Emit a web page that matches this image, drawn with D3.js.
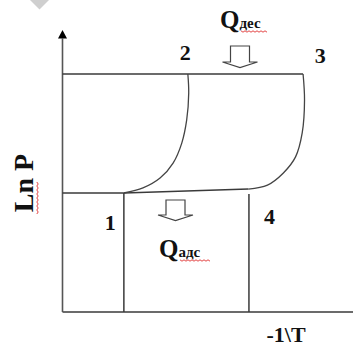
<!DOCTYPE html>
<html>
<head>
<meta charset="utf-8">
<script src="https://cdn.jsdelivr.net/npm/d3@7/dist/d3.min.js"></script>
<style>
  html, body { margin: 0; padding: 0; background: #fff; }
  svg { display: block; }
</style>
</head>
<body>
<svg id="chart" width="353" height="348"></svg>
<script>
// ---- data (schematic units: x = -1/T, y = Ln P) ----
const pLow = 4.22;          // adsorption pressure level (point 1)
const pHigh = 8.44;         // desorption pressure level (points 2,3)
const xPoint1 = 2.12;
const xPoint4 = 6.44;
const isostere12X = [2.12, 2.78, 3.37, 3.82, 4.12, 4.29, 4.36, 4.33];
const isostere12Y = [4.22, 4.40, 4.75, 5.28, 5.99, 6.81, 7.77, 8.44];
const isostere43X = [6.42, 7.08, 7.63, 8.05, 8.28, 8.36, 8.31];
const isostere43Y = [4.36, 4.50, 4.93, 5.50, 6.35, 7.52, 8.44];
const pointLabels = ["1", "2", "3", "4"];
const pointLabelX = [1.65, 4.24, 8.9, 7.15];
const pointLabelY = [2.91, 8.94, 8.82, 3.12];
const heatLabels = ["Q", "Q"];
const heatSubs = ["дес", "адс"];
const axisLabels = ["Ln P", "-1\\T"];

const FONT = "'Liberation Serif', 'DejaVu Serif', 'Times New Roman', serif";
const svg = d3.select("#chart");
const x = d3.scaleLinear().domain([0, 10]).range([62.5, 352]);
const y = d3.scaleLinear().domain([0, 10]).range([312, 30]);

// watermark fragment
svg.append("polygon").attr("points", "30,0 49,0 39.5,9.5").attr("fill", "#cfcfcf");

const stroke = "#3a3a3a";

// axes
svg.append("line").attr("x1", x(0)).attr("x2", 353).attr("y1", y(0)).attr("y2", y(0))
  .attr("stroke", stroke).attr("stroke-width", 1.6);
svg.append("line").attr("x1", x(0)).attr("x2", x(0)).attr("y1", y(0)).attr("y2", y(9.7))
  .attr("stroke", "#555").attr("stroke-width", 1.6);
svg.append("path")
  .attr("d", `M${x(0)},${y(10)} L${x(0) - 4.5},${y(9.7)} L${x(0) + 4.5},${y(9.7)} Z`)
  .attr("fill", "#000");

// isobars
svg.append("line").attr("x1", x(0)).attr("x2", x(isostere43X[isostere43X.length - 1]))
  .attr("y1", y(pHigh)).attr("y2", y(pHigh)).attr("stroke", stroke).attr("stroke-width", 1.5);
svg.append("line").attr("x1", x(0)).attr("x2", x(xPoint1))
  .attr("y1", y(pLow)).attr("y2", y(pLow)).attr("stroke", stroke).attr("stroke-width", 1.5);
// 1 -> 4 line
svg.append("line").attr("x1", x(isostere12X[0])).attr("y1", y(isostere12Y[0]))
  .attr("x2", x(isostere43X[0])).attr("y2", y(isostere43Y[0]))
  .attr("stroke", stroke).attr("stroke-width", 1.4);
// verticals
svg.append("line").attr("x1", x(xPoint1)).attr("x2", x(xPoint1))
  .attr("y1", y(pLow)).attr("y2", y(0)).attr("stroke", stroke).attr("stroke-width", 1.5);
svg.append("line").attr("x1", x(xPoint4)).attr("x2", x(xPoint4))
  .attr("y1", y(4.18)).attr("y2", y(0)).attr("stroke", stroke).attr("stroke-width", 1.5);

// isosteres (curves)
const line = d3.line().x(d => x(d[0])).y(d => y(d[1])).curve(d3.curveCatmullRom.alpha(0.5));
svg.append("path").attr("d", line(isostere12X.map((v, i) => [v, isostere12Y[i]])))
  .attr("fill", "none").attr("stroke", "#444").attr("stroke-width", 1.3);
svg.append("path").attr("d", line(isostere43X.map((v, i) => [v, isostere43Y[i]])))
  .attr("fill", "none").attr("stroke", "#444").attr("stroke-width", 1.3);

function txt(sel) {
  return sel.attr("font-family", FONT).attr("font-weight", "bold").attr("fill", "#111");
}

// point labels
pointLabels.forEach((t, i) => {
  txt(svg.append("text")).attr("x", x(pointLabelX[i])).attr("y", y(pointLabelY[i]))
    .attr("text-anchor", "middle").attr("font-size", 22).text(t);
});

// hollow block arrows
function blockArrow(cx, top, headY, tipY, halfBody, halfHead) {
  const p = [[cx - halfBody, top], [cx + halfBody, top], [cx + halfBody, headY], [cx + halfHead, headY],
             [cx, tipY], [cx - halfHead, headY], [cx - halfBody, headY]];
  svg.append("polygon").attr("points", p.map(d => d.join(",")).join(" "))
    .attr("fill", "#fff").attr("stroke", "#444").attr("stroke-width", 1.2);
}
blockArrow(240, 46, 62, 67.5, 9.5, 17.5);
blockArrow(175.5, 200, 215, 220.5, 9.5, 17.5);

// heat labels
function heatLabel(xq, yb, i) {
  const t = txt(svg.append("text")).attr("x", xq).attr("y", yb).attr("font-size", 25);
  t.append("tspan").text(heatLabels[i]);
  t.append("tspan").attr("font-size", 15).text(heatSubs[i]);
}
heatLabel(220, 28, 0);
heatLabel(159, 257, 1);

// spell-check squiggles
function squiggle(x0, x1, yy, vertical) {
  let d = "";
  const n = Math.round((x1 - x0) / 2);
  for (let k = 0; k <= n; k++) {
    const a = x0 + k * 2, b = yy + (k % 2 ? 1.2 : -0.2);
    d += (k ? "L" : "M") + (vertical ? `${b},${a}` : `${a},${b}`);
  }
  svg.append("path").attr("d", d).attr("fill", "none").attr("stroke", "#e03030").attr("stroke-width", 0.9);
}
squiggle(241, 267, 31, false);
squiggle(180, 210, 260, false);
squiggle(182, 213, 37, true);

// axis labels
txt(svg.append("text")).attr("transform", `translate(33,183) rotate(-90)`)
  .attr("text-anchor", "middle").attr("font-size", 28).text(axisLabels[0]);
txt(svg.append("text")).attr("x", 286).attr("y", 342).attr("text-anchor", "middle")
  .attr("font-size", 22).text(axisLabels[1]);
</script>
</body>
</html>
